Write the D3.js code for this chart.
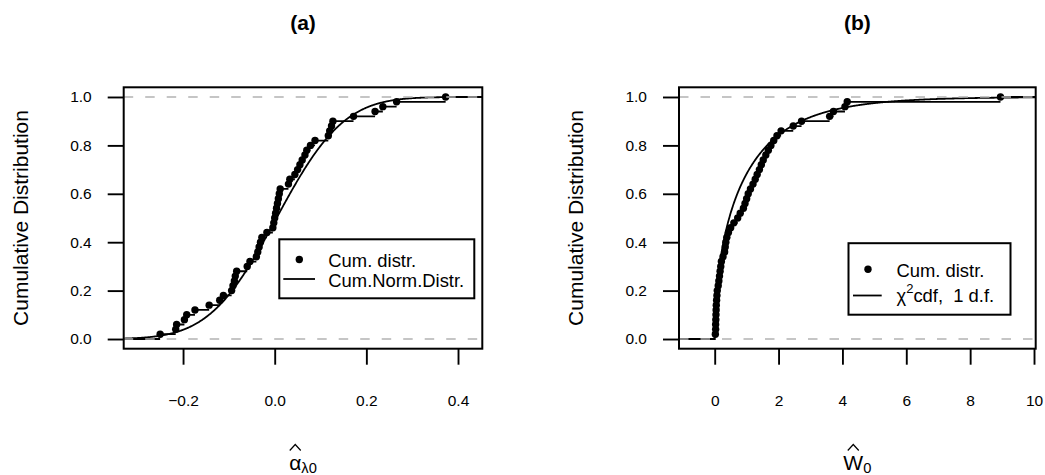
<!DOCTYPE html>
<html><head><meta charset="utf-8">
<script src="https://cdn.jsdelivr.net/npm/d3@7"></script>
<style>
body{margin:0;background:#fff;}
svg{display:block;font-family:"Liberation Sans", Arial, Helvetica, sans-serif;}
</style></head><body>
<svg id="chart" width="1045" height="475"></svg>
<script>
// ---- data ----
const alphaHat = [-0.250,-0.216,-0.214,-0.197,-0.192,-0.174,-0.143,-0.120,-0.112,-0.094,
  -0.091,-0.088,-0.086,-0.083,-0.060,-0.054,-0.040,-0.037,-0.034,-0.031,
  -0.028,-0.017,-0.004,-0.002,0.000,0.002,0.004,0.006,0.008,0.010,
  0.012,0.030,0.033,0.044,0.050,0.055,0.060,0.066,0.070,0.078,
  0.088,0.117,0.120,0.124,0.127,0.172,0.219,0.236,0.266,0.373];
const w0Hat = [0.02,0.03,0.03,0.035,0.04,0.045,0.05,0.06,0.07,0.08,
  0.11,0.13,0.15,0.17,0.19,0.21,0.26,0.31,0.33,0.35,
  0.38,0.43,0.50,0.60,0.72,0.80,0.90,0.95,1.00,1.05,
  1.12,1.20,1.27,1.33,1.40,1.46,1.52,1.60,1.68,1.76,
  1.85,1.95,2.08,2.46,2.72,3.60,3.72,4.08,4.15,8.95];
const yTickValues = [0, 0.2, 0.4, 0.6, 0.8, 1.0];
const xTicksA = [-0.2, 0.0, 0.2, 0.4];
const xTicksB = [0, 2, 4, 6, 8, 10];
const normMean = 0.004, normSd = 0.115;   // fitted normal shown in (a)
const chiDf = 1;                          // chi-square d.f. in (b)
const titles = ["(a)", "(b)"];
const yTitle = "Cumulative Distribution";
const legendA = ["Cum. distr.", "Cum.Norm.Distr."];
const legendB = ["Cum. distr.", "cdf,  1 d.f."];

// ---- helpers ----
function erf(x){
  const s = Math.sign(x); x = Math.abs(x);
  const t = 1/(1+0.3275911*x);
  const y = 1-(((((1.061405429*t-1.453152027)*t)+1.421413741)*t-0.284496736)*t+0.254829592)*t*Math.exp(-x*x);
  return s*y;
}
const normCdf = x => 0.5*(1+erf((x-normMean)/(normSd*Math.SQRT2)));
const chiCdf = x => x <= 0 ? 0 : erf(Math.sqrt(x/2)); // 1 d.f.

const svg = d3.select("#chart");
const FONT_TICK = 15.5, FONT_LAB = 21, FONT_LEG = 18.4;
const LW = 1.8, PR = 3.7;

const panels = [
  {data: alphaHat, cdf: normCdf, xDomain: [-0.3295, 0.453], x0: 123.7, x1: 482.3,
   xTicks: xTicksA, fmt: d3.format(".1f"), title: titles[0], yTitleX: 28.3,
   xlab: {main: "α", sub: "λ0"},
   leg: {bx0: 279.3, by0: 239.3, bx1: 474.3, by1: 298.3, px: 299.3, py: 259.5,
         lx0: 283.3, lx1: 315, ly: 279, tx: 328.3, t1: 266.5, t2: 286.5, chi: false}},
  {data: w0Hat, cdf: chiCdf, xDomain: [-1.118, 10.053], x0: 679, x1: 1035.7,
   xTicks: xTicksB, fmt: d3.format("d"), title: titles[1], yTitleX: 583.3,
   xlab: {main: "W", sub: "0"},
   leg: {bx0: 848.5, by0: 243.2, bx1: 1010.5, by1: 314.7, px: 868, py: 269.3,
         lx0: 853, lx1: 881.7, ly: 295.5, tx: 896.5, t1: 276.5, t2: 301.7, chi: true}}
];
const yTop = 87.3, yBot = 348.7;

panels.forEach((p, k) => {
  const x = d3.scaleLinear().domain(p.xDomain).range([p.x0, p.x1]);
  const y = d3.scaleLinear().domain([-0.04, 1.04]).range([yBot, yTop]);
  const g = svg.append("g");
  const clipId = "clip" + k;
  svg.append("clipPath").attr("id", clipId).append("rect")
    .attr("x", p.x0).attr("y", yTop).attr("width", p.x1 - p.x0).attr("height", yBot - yTop);
  const plot = g.append("g").attr("clip-path", `url(#${clipId})`);

  // theoretical curve
  const [d0, d1] = p.xDomain;
  const N = 800;
  let xsC = d3.range(N + 1).map(i => d0 + (d1 - d0) * i / N);
  if (p.cdf === chiCdf) {
    const fine = d3.range(1, 200).map(i => Math.pow(i / 200, 2) * 1.0);
    xsC = xsC.concat([0], fine).sort((a, b) => a - b);
  }
  plot.append("path")
    .attr("d", d3.line().x(d => x(d)).y(d => y(p.cdf(d)))(xsC))
    .attr("fill", "none").attr("stroke", "#000").attr("stroke-width", LW);

  // ECDF horizontal steps
  const xs = p.data.slice().sort((a, b) => a - b);
  const n = xs.length;
  const segs = [];
  segs.push([d0, xs[0], 0]);
  for (let i = 0; i < n - 1; i++) segs.push([xs[i], xs[i + 1], (i + 1) / n]);
  segs.push([xs[n - 1], d1, 1]);
  plot.selectAll("line.step").data(segs).enter().append("line")
    .attr("x1", d => x(d[0])).attr("x2", d => x(d[1]))
    .attr("y1", d => y(d[2])).attr("y2", d => y(d[2]))
    .attr("stroke", "#000").attr("stroke-width", LW);

  // points
  plot.selectAll("circle.pt").data(xs).enter().append("circle")
    .attr("cx", d => x(d)).attr("cy", (d, i) => y((i + 1) / n))
    .attr("r", PR).attr("fill", "#000");

  // 0/1 dashed lines
  plot.selectAll("line.h01").data([0, 1]).enter().append("line")
    .attr("x1", p.x0).attr("x2", p.x1).attr("y1", d => y(d)).attr("y2", d => y(d))
    .attr("stroke", "#b3b3b3").attr("stroke-width", 1.7).attr("stroke-dasharray", "9.5,12");

  // box
  g.append("rect").attr("x", p.x0).attr("y", yTop).attr("width", p.x1 - p.x0).attr("height", yBot - yTop)
    .attr("fill", "none").attr("stroke", "#000").attr("stroke-width", 2);

  // axes
  const ya = g.append("g").attr("transform", `translate(${p.x0},0)`)
    .call(d3.axisLeft(y).tickValues(yTickValues).tickFormat(d3.format(".1f")).tickSize(16).tickPadding(16));
  const xa = g.append("g").attr("transform", `translate(0,${yBot})`)
    .call(d3.axisBottom(x).tickValues(p.xTicks).tickFormat(p.fmt).tickSize(16).tickPadding(30));
  [ya, xa].forEach(a => {
    a.select(".domain").remove();
    a.selectAll(".tick line").attr("stroke", "#000").attr("stroke-width", 1.9);
    a.selectAll(".tick text").attr("fill", "#000").style("font-size", FONT_TICK + "px")
      .style("font-family", '"Liberation Sans", Arial, sans-serif');
  });

  // title
  const cx = (p.x0 + p.x1) / 2;
  g.append("text").attr("x", cx).attr("y", 30).attr("text-anchor", "middle")
    .style("font-size", FONT_LAB + "px").style("font-weight", "bold").text(p.title);

  // y title
  g.append("text").attr("transform", `translate(${p.yTitleX},${(yTop + yBot) / 2}) rotate(-90)`)
    .attr("text-anchor", "middle").style("font-size", FONT_LAB + "px").text(yTitle);

  // x label with hat and subscript
  const base = 469.5;
  const xl = g.append("text").attr("y", base).style("font-size", FONT_LAB + "px");
  const mainT = xl.append("tspan").text(p.xlab.main);
  xl.append("tspan").attr("dy", 3).style("font-size", "14.7px").text(p.xlab.sub);
  const wTot = xl.node().getComputedTextLength();
  const x0l = cx - wTot / 2;
  xl.attr("x", x0l);
  const wMain = mainT.node().getComputedTextLength();
  const hc = x0l + wMain / 2;
  g.append("path")
    .attr("d", `M${hc - 5.5},${base - 19} L${hc},${base - 25} L${hc + 5.5},${base - 19}`)
    .attr("fill", "none").attr("stroke", "#000").attr("stroke-width", 1.2);

  // legend
  const L = p.leg;
  const lg = g.append("g");
  lg.append("rect").attr("x", L.bx0).attr("y", L.by0).attr("width", L.bx1 - L.bx0).attr("height", L.by1 - L.by0)
    .attr("fill", "#fff").attr("stroke", "#000").attr("stroke-width", 2);
  lg.append("circle").attr("cx", L.px).attr("cy", L.py).attr("r", PR).attr("fill", "#000");
  lg.append("line").attr("x1", L.lx0).attr("x2", L.lx1).attr("y1", L.ly).attr("y2", L.ly)
    .attr("stroke", "#000").attr("stroke-width", LW);
  const labels = L.chi ? legendB : legendA;
  lg.append("text").attr("x", L.tx).attr("y", L.t1).style("font-size", FONT_LEG + "px").text(labels[0]);
  const t2 = lg.append("text").attr("x", L.tx).attr("y", L.t2).style("font-size", FONT_LEG + "px")
    .style("white-space", "pre");
  if (L.chi) {
    t2.append("tspan").text("χ");
    t2.append("tspan").attr("dy", -9).style("font-size", "13px").text("2");
    t2.append("tspan").attr("dy", 9).text(labels[1]);
  } else {
    t2.text(labels[1]);
  }
});
</script>
</body></html>
